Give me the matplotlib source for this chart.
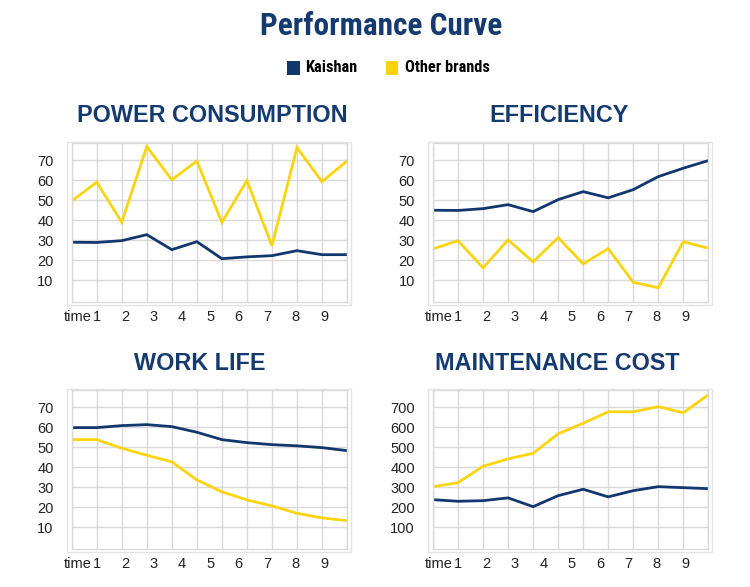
import matplotlib
matplotlib.use("Agg")
import matplotlib.pyplot as plt
from matplotlib.font_manager import fontManager
from matplotlib.patches import Rectangle

# data
steps = list(range(12))
time_labels = ['time', '1', '2', '3', '4', '5', '6', '7', '8', '9']

power_kaishan = [29, 28.9, 29.8, 32.8, 25.3, 29.3, 20.8, 21.7, 22.3, 24.8, 22.8, 22.8]
power_other = [49.6, 59, 39, 76.8, 60.2, 69.6, 39, 59.8, 27.3, 76.3, 59.3, 69.6]

eff_kaishan = [45, 44.9, 45.8, 47.8, 44.3, 50.3, 54.3, 51.2, 55.3, 61.8, 66, 69.8]
eff_other = [25.7, 29.8, 16.2, 30.2, 19.2, 31.3, 18.2, 25.8, 9, 6.3, 29.3, 26]

life_kaishan = [59.8, 59.8, 60.8, 61.3, 60.3, 57.5, 53.8, 52.3, 51.3, 50.7, 49.8, 48.3]
life_other = [53.8, 53.8, 49.5, 46, 42.7, 33.7, 27.7, 23.7, 20.7, 17, 14.7, 13.3]

cost_kaishan = [238, 230, 233, 247, 203, 258, 290, 252, 283, 303, 298, 293]
cost_other = [303, 323, 405, 442, 470, 567, 620, 677, 677, 703, 672, 762]

navy = '#12376f'
yellow = '#fbd40f'
title_col = '#143a70'
grid_col = '#d9d9d9'

# pick a narrow bold face for the banner if one exists
names = {f.name for f in fontManager.ttflist}
narrow = 'DejaVu Sans'
for cand in ['Liberation Sans Narrow', 'Roboto Condensed', 'Open Sans Condensed', 'DejaVu Sans Condensed']:
    if cand in names:
        narrow = cand
        break

plt.rcParams['font.family'] = ['Liberation Sans', 'DejaVu Sans']

fig = plt.figure(figsize=(7.5, 5.87), dpi=100)

W, H = 750.0, 587.0
# title, series, series, axes left px, axes top px, scale, title centre px
panels = [
    ('POWER CONSUMPTION', power_kaishan, power_other, 71.7, 143, 1, 212),
    ('EFFICIENCY', eff_kaishan, eff_other, 433, 143, 1, 559),
    ('WORK LIFE', life_kaishan, life_other, 71.7, 390, 1, 200),
    ('MAINTENANCE COST', cost_kaishan, cost_other, 433, 390, 100, 557),
]

lab_pos = [0.24] + [1 + (k - 1) * 1.135 for k in range(1, 10)]

for title, ks, ot, px, py, scale, tx in panels:
    ax = fig.add_axes([px / W, 1 - (py + 158.7) / H, 275.3 / W, 158.7 / H])
    # outer frame
    fig.patches.append(Rectangle(((px - 5) / W, 1 - (py + 162) / H), 284 / W, 163 / H,
                                 transform=fig.transFigure, fill=False,
                                 edgecolor='#e3e3e3', linewidth=1))
    ax.plot(steps, ot, color=yellow, linewidth=2, solid_joinstyle='miter')
    ax.plot(steps, ks, color=navy, linewidth=2, solid_joinstyle='miter')
    ax.set_xlim(0, 11)
    if scale == 1:
        ax.set_ylim(-0.7, 78.6)
        yt = [10, 20, 30, 40, 50, 60, 70]
    else:
        ax.set_ylim(-7, 786)
        yt = [100, 200, 300, 400, 500, 600, 700]
    ax.set_yticks(yt)
    ax.xaxis.remove_overlapping_locs = False
    ax.set_xticks(steps)
    ax.set_xticklabels([])
    ax.set_xticks(lab_pos, minor=True)
    ax.set_xticklabels(time_labels, minor=True)
    ax.tick_params(axis='x', which='both', length=0, pad=6, labelsize=10.5, labelcolor='#222222')
    ax.tick_params(axis='y', length=0, pad=13, labelsize=10.5, labelcolor='#222222')
    ax.grid(True, which='major', color=grid_col, linewidth=1)
    ax.set_axisbelow(True)
    for s in ax.spines.values():
        s.set_color(grid_col)
        s.set_linewidth(1)
    fig.text(tx / W, 1 - (py - 27) / H, title, ha='center', va='center',
             fontsize=16.8, fontweight='bold', color=title_col)

fig.text(381 / W, 1 - 26 / H, 'Performance Curve', ha='center', va='center',
         fontsize=22.5, fontweight='bold', color=title_col, family=narrow, stretch='condensed')

# legend
fig.patches.append(Rectangle((287 / W, 1 - 75 / H), 13 / W, 14 / H, transform=fig.transFigure,
                             facecolor=navy, edgecolor='none'))
fig.text(305 / W, 1 - 68 / H, 'Kaishan', ha='left', va='center', fontsize=11.7,
         fontweight='bold', family=narrow, stretch='condensed')
fig.patches.append(Rectangle((386 / W, 1 - 75 / H), 12 / W, 14 / H, transform=fig.transFigure,
                             facecolor=yellow, edgecolor='none'))
fig.text(405 / W, 1 - 68 / H, 'Other brands', ha='left', va='center', fontsize=11.7,
         fontweight='bold', family=narrow, stretch='condensed')

fig.savefig('out.png', dpi=100)
